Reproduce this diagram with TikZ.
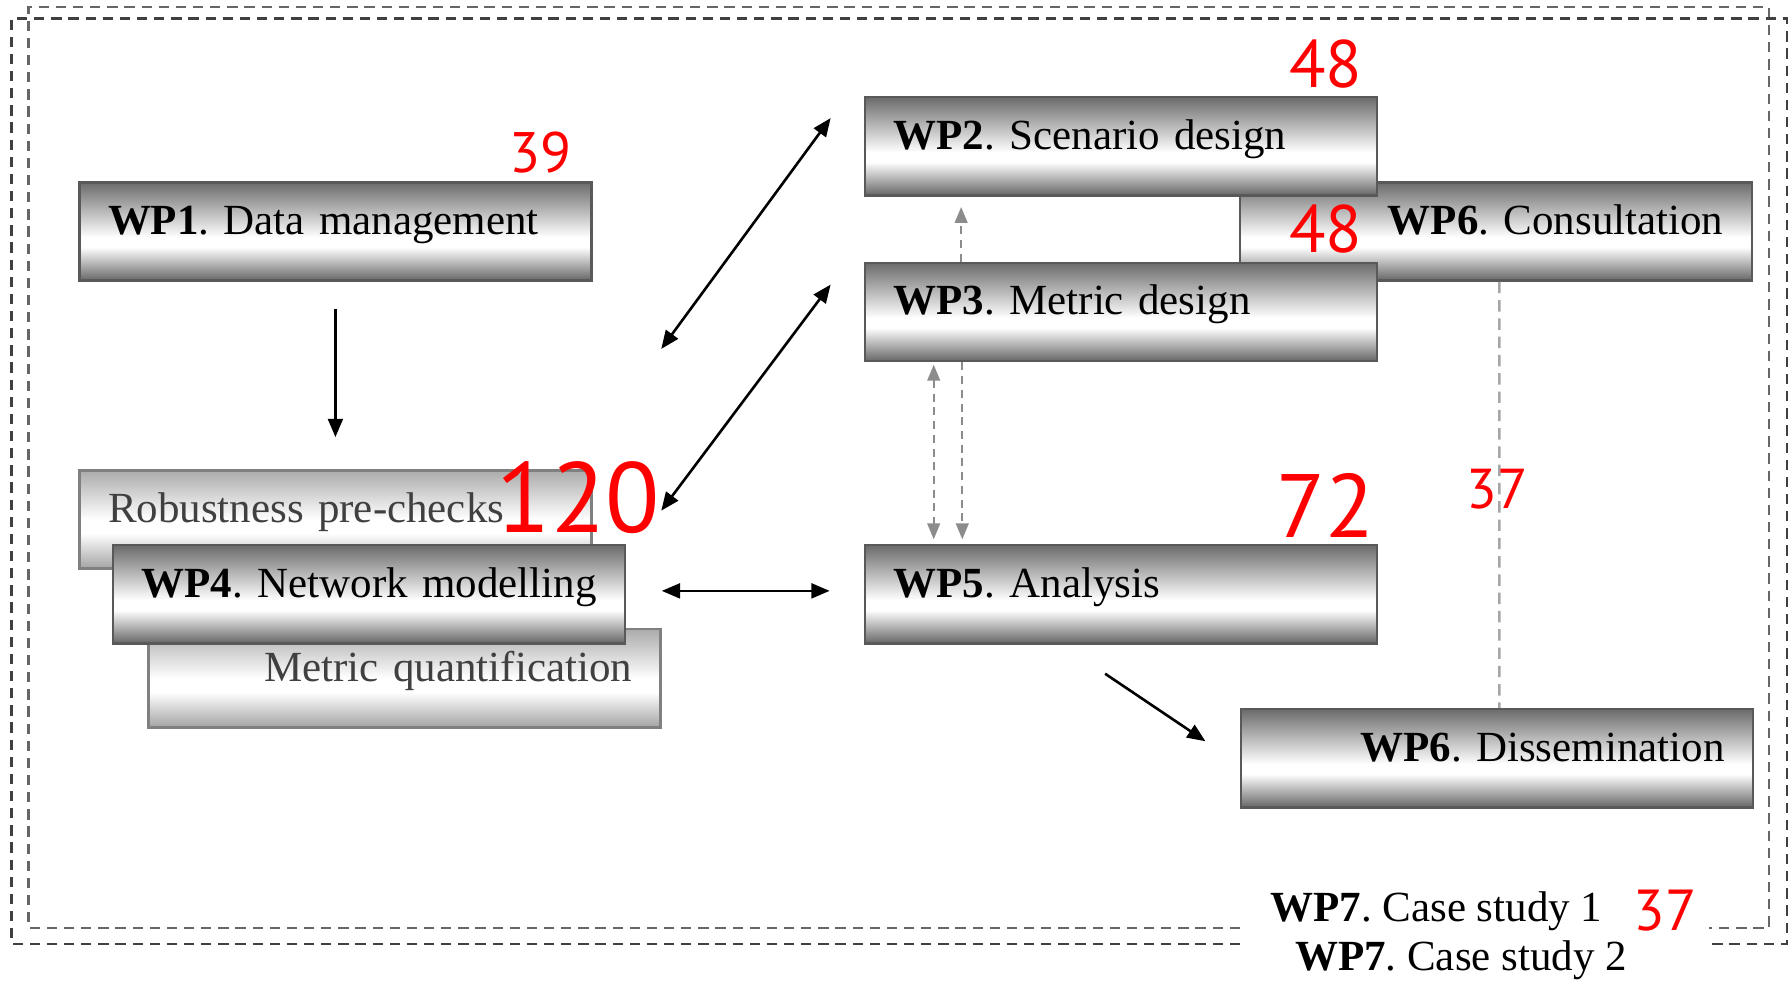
\documentclass[tikz,border=0pt]{standalone}
\usepackage{fontspec}
\setmainfont{Liberation Serif}
\newfontfamily\numfont{PT Sans}
\usetikzlibrary{arrows.meta}
\frenchspacing
\pgfdeclareverticalshading{wpshade}{100bp}{color(0bp)=(black!60); color(25bp)=(black!60); color(42bp)=(white); color(47bp)=(white); color(75bp)=(black!58); color(100bp)=(black!58)}
\pgfdeclareverticalshading{preshade}{100bp}{color(0bp)=(black!36); color(25bp)=(black!36); color(43bp)=(white); color(50bp)=(white); color(75bp)=(black!33); color(100bp)=(black!33)}

\begin{document}
\begin{tikzpicture}[x=0.1mm, y=0.1mm]
\tikzstyle{every node}+=[inner sep=0pt]
\tikzstyle{wpbox}=[rectangle, draw=black!65, line width=0.6pt, shade, shading=wpshade, minimum width=4.48cm, minimum height=0.86cm, inner xsep=0.25cm, text width=3.98cm, text height=0.26cm, text depth=0.21cm, align=left, font=\fontsize{10.7}{12}\selectfont\frenchspacing]
\tikzstyle{prebox}=[wpbox, shading=preshade, draw=black!50, text=black!75]
\tikzstyle{num}=[text=red, font=\numfont]
\tikzstyle{frame}=[black!60, line width=0.6pt, dash pattern=on 0.09cm off 0.06cm]
\tikzstyle{arr}=[black, line width=0.65pt, -{Triangle[length=0.16cm,width=0.13cm]}]
\tikzstyle{dbl}=[black, line width=0.65pt, {Triangle[length=0.16cm,width=0.13cm]}-{Triangle[length=0.16cm,width=0.13cm]}]
\tikzstyle{garr}=[black!45, line width=0.6pt, dash pattern=on 0.07cm off 0.05cm, -{Triangle[length=0.14cm,width=0.11cm]}]
\tikzstyle{gdbl}=[black!45, line width=0.6pt, dash pattern=on 0.07cm off 0.05cm, {Triangle[length=0.14cm,width=0.11cm]}-{Triangle[length=0.14cm,width=0.11cm]}]
\tikzstyle{gline}=[black!35, line width=0.6pt, dash pattern=on 0.1cm off 0.06cm]
\useasboundingbox (0,0) rectangle (1568,-858);
% case study frames
\draw [frame] (1085,-812) -- (25,-812) -- (25,-6) -- (1548,-6) -- (1548,-812) -- (1495,-812);
\draw [frame, black!75] (1085,-826) -- (10,-826) -- (10,-16) -- (1563.5,-16) -- (1563.5,-826) -- (1495,-826);
% work packages
\node [wpbox, align=right] (wp6c) at (1309,-202.5) {\textbf{WP6}. Consultation};
\node [wpbox] (wp1) at (293.5,-202.5) {\textbf{WP1}. Data management};
\node [wpbox] (wp2) at (981,-128) {\textbf{WP2}. Scenario design};
\node [wpbox] (wp3) at (981,-273) {\textbf{WP3}. Metric design};
\node [prebox] (robust) at (293.5,-454.5) {Robustness pre-checks};
\node [prebox, align=right] (metq) at (354,-593.5) {Metric quantification};
\node [wpbox] (wp4) at (323,-520) {\textbf{WP4}. Network modelling};
\node [wpbox] (wp5) at (981,-520) {\textbf{WP5}. Analysis};
\node [wpbox, align=right] (wp6d) at (1310,-663.5) {\textbf{WP6}. Dissemination};
\node [anchor=base west, font=\fontsize{10.7}{12}\selectfont] (wp7a) at (1111,-806.7) {\textbf{WP7}. Case study 1};
\node [anchor=base west, font=\fontsize{10.7}{12}\selectfont] (wp7b) at (1132.5,-849) {\textbf{WP7}. Case study 2};
% connectors
\coordinate (l2) at (578.6,-305.3);
\coordinate (r2) at (726.8,-103.3);
\coordinate (l3) at (578.6,-446.8);
\coordinate (r3) at (726.8,-249);
\coordinate (s6) at (967,-589.5);
\coordinate (t6) at (1054.8,-648.6);
\draw [arr, shorten <=0.24cm, shorten >=0.28cm] (wp1.south) -- (robust.north);
\draw [dbl] (l2) -- (r2);
\draw [dbl] (l3) -- (r3);
\draw [dbl, shorten <=0.31cm, shorten >=0.30cm] ([yshift=0.03cm]wp4.east) -- ([yshift=0.03cm]wp5.west);
\draw [arr] (s6) -- (t6);
\draw [garr] ([xshift=-1.40cm]wp3.north) -- ([xshift=-1.40cm,yshift=-0.09cm]wp2.south);
\draw [gdbl] ([xshift=-1.64cm,yshift=-0.02cm]wp3.south) -- ([xshift=-1.64cm,yshift=0.04cm]wp5.north);
\draw [garr] ([xshift=-1.39cm]wp3.south) -- ([xshift=-1.39cm,yshift=0.04cm]wp5.north);
\draw [gline] ([xshift=0.03cm]wp6c.south) -- ([xshift=0.02cm]wp6d.north);
% person-months
\node [num] (n39) at (473,-133.5) {\fontsize{14.2}{16}\selectfont 39};
\node [num] (n48a) at (1160,-56) {\fontsize{16.7}{18}\selectfont 48};
\node [num] (n48b) at (1160,-200) {\fontsize{16.7}{18}\selectfont 48};
\node [num] (n120) at (506,-435) {\fontsize{24.8}{26}\selectfont 120};
\node [num] (n72) at (1160,-442) {\fontsize{22.4}{24}\selectfont 72};
\node [num] (n37a) at (1310,-428) {\fontsize{14}{16}\selectfont 37};
\node [num] (n37b) at (1457,-797) {\fontsize{14.4}{16}\selectfont 37};
\end{tikzpicture}
\end{document}
